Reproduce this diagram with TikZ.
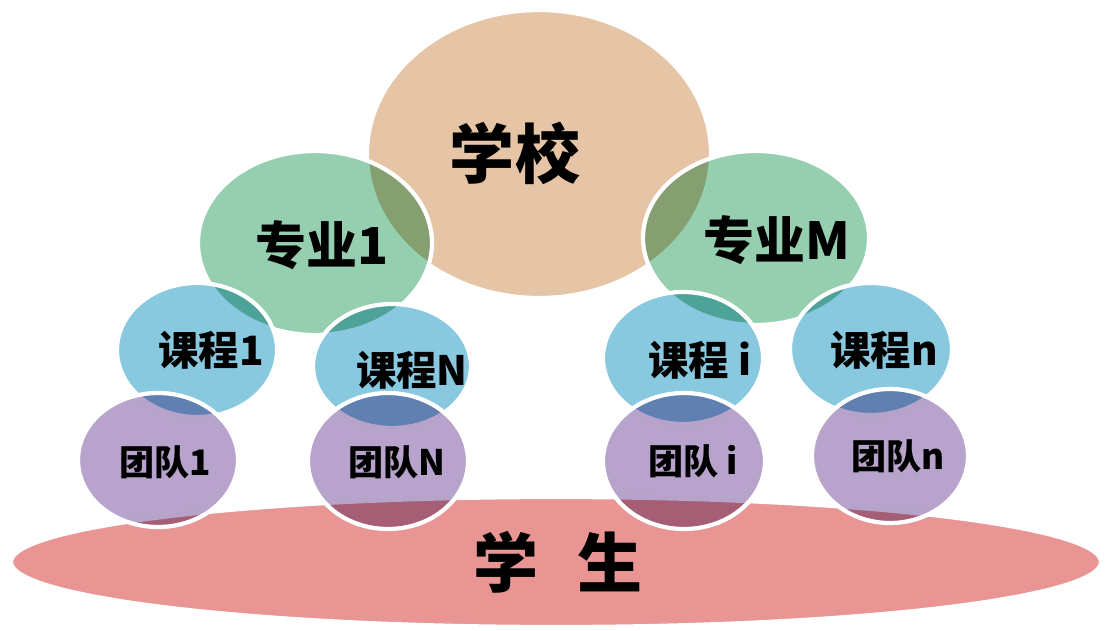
\documentclass[tikz,border=0pt]{standalone}
\usepackage{fontspec}
\newfontfamily\cjk{Noto Sans CJK SC}
\usepackage{xcolor}
\usepackage{tikz}

\definecolor{schoolc}{RGB}{227,190,156}
\definecolor{majorc}{RGB}{137,202,166}
\definecolor{coursec}{RGB}{124,195,221}
\definecolor{teamc}{RGB}{175,153,197}
\definecolor{studentc}{RGB}{230,137,136}

\tikzset{
  blob/.style={preaction={fill=#1, fill opacity=.9, blend mode=multiply}, draw=white, line width=2.4pt},
  word/.style={font=\cjk\bfseries\fontsize{#1}{#1}\selectfont, text=black, inner sep=0pt}
}

\begin{document}
\begin{tikzpicture}[x=0.02cm, y=-0.02cm]
\useasboundingbox (0,0) rectangle (1105,631);

% school and majors
\path[blob=schoolc] (539,154) ellipse [x radius=172, y radius=144];
\path[blob=majorc] (315,243) ellipse [x radius=117, y radius=92];
\path[blob=majorc] (756,238) ellipse [x radius=113, y radius=87];

% students
\path[blob=studentc] (556,562) ellipse [x radius=545, y radius=65];

% courses
\path[blob=coursec] (197,350) ellipse [x radius=80, y radius=67];
\path[blob=coursec] (392,366) ellipse [x radius=79, y radius=62];
\path[blob=coursec] (683,358) ellipse [x radius=80, y radius=66];
\path[blob=coursec] (871,349) ellipse [x radius=81, y radius=66];

% teams
\path[blob=teamc] (158,460) ellipse [x radius=80, y radius=67];
\path[blob=teamc] (388,461) ellipse [x radius=80, y radius=68];
\path[blob=teamc] (684,461) ellipse [x radius=81, y radius=68];
\path[blob=teamc] (890,456) ellipse [x radius=78, y radius=67];

% labels
\node[word=37pt] (school) at (515,153) {学校};
\node[word=29pt] (major1) at (322,245) {专业1};
\node[word=29pt] (majorM) at (777,240) {专业M};
\node[word=23pt] (course1) at (211,350) {课程1};
\node[word=23pt] (courseN) at (412,370) {课程N};
\node[word=23pt] (coursei) at (700,360) {课程 i};
\node[word=23pt] (coursen) at (884,350) {课程n};
\node[word=20pt] (team1) at (165,462) {团队1};
\node[word=20pt] (teamN) at (397,462) {团队N};
\node[word=20pt] (teami) at (693,461) {团队 i};
\node[word=20pt] (teamn) at (898,456) {团队n};
\node[word=37pt] (student) at (558,562) {学\hspace{0.6em}生};
\end{tikzpicture}
\end{document}
